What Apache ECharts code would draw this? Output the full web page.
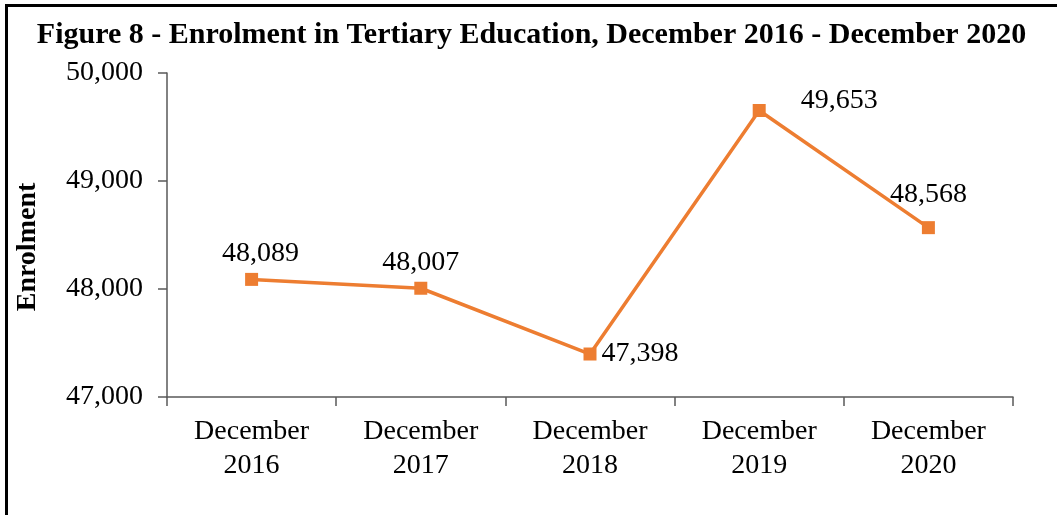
<!DOCTYPE html>
<html>
<head>
<meta charset="utf-8">
<script src="https://cdn.jsdelivr.net/npm/echarts@6/dist/echarts.min.js"></script>
<style>
  html, body { margin: 0; padding: 0; background: #fff; }
  #main { width: 1063px; height: 515px; }
</style>
</head>
<body>
<div id="main"></div>
<script>
  // data
  const categories = ['December\n2016', 'December\n2017', 'December\n2018', 'December\n2019', 'December\n2020'];
  const enrolment = [48089, 48007, 47398, 49653, 48568];
  const yTicks = [47000, 48000, 49000, 50000];

  const serif = '"Liberation Serif", "Times New Roman", serif';
  const fmt = v => v.toLocaleString('en-US');

  // label placement per point (top / right), tweaked to match the figure
  const labelPos = [
    { position: 'top', offset: [9, 0] },
    { position: 'top', offset: [0, 0] },
    { position: 'right', offset: [0, 0] },
    { position: 'right', offset: [30, -10] },
    { position: 'top', offset: [0, -8] }
  ];

  let chart = echarts.init(document.getElementById('main'));
  let option = {
    animation: false,
    backgroundColor: '#fff',
    title: {
      text: 'Figure 8 - Enrolment in Tertiary Education, December 2016 - December 2020',
      left: 'center',
      top: 15,
      textStyle: { fontFamily: serif, fontWeight: 'bold', fontSize: 30, color: '#000' }
    },
    graphic: [
      {
        type: 'polyline',
        shape: { points: [[6.5, 515], [6.5, 5.5], [1057, 5.5]] },
        style: { stroke: '#000', lineWidth: 3, fill: null }
      },
      {
        type: 'text',
        x: 28, y: 247,
        rotation: Math.PI / 2,
        style: {
          text: 'Enrolment',
          font: 'bold 28px ' + serif,
          fill: '#000',
          align: 'center',
          verticalAlign: 'middle'
        }
      }
    ],
    grid: { left: 167, right: 50, top: 73, bottom: 118 },
    xAxis: {
      type: 'category',
      data: categories,
      boundaryGap: true,
      axisLine: { lineStyle: { color: '#595959', width: 1.5 } },
      axisTick: { show: true, length: 9, lineStyle: { color: '#595959', width: 1.5 } },
      axisLabel: {
        margin: 18,
        color: '#000',
        fontFamily: serif,
        fontSize: 28,
        lineHeight: 34
      }
    },
    yAxis: {
      type: 'value',
      min: yTicks[0],
      max: yTicks[yTicks.length - 1],
      interval: 1000,
      splitLine: { show: false },
      axisLine: { show: true, lineStyle: { color: '#595959', width: 1.5 } },
      axisTick: { show: true, length: 9, lineStyle: { color: '#595959', width: 1.5 } },
      axisLabel: {
        margin: 24,
        color: '#000',
        fontFamily: serif,
        fontSize: 28,
        formatter: v => fmt(v)
      }
    },
    series: [{
      type: 'line',
      data: enrolment.map((v, i) => ({
        value: v,
        label: labelPos[i]
      })),
      symbol: 'rect',
      symbolSize: 13,
      lineStyle: { color: '#ED7D31', width: 3.5 },
      itemStyle: { color: '#ED7D31' },
      label: {
        show: true,
        color: '#000',
        fontFamily: serif,
        fontSize: 28,
        formatter: p => fmt(p.value)
      }
    }]
  };
  chart.setOption(option);
</script>
</body>
</html>
